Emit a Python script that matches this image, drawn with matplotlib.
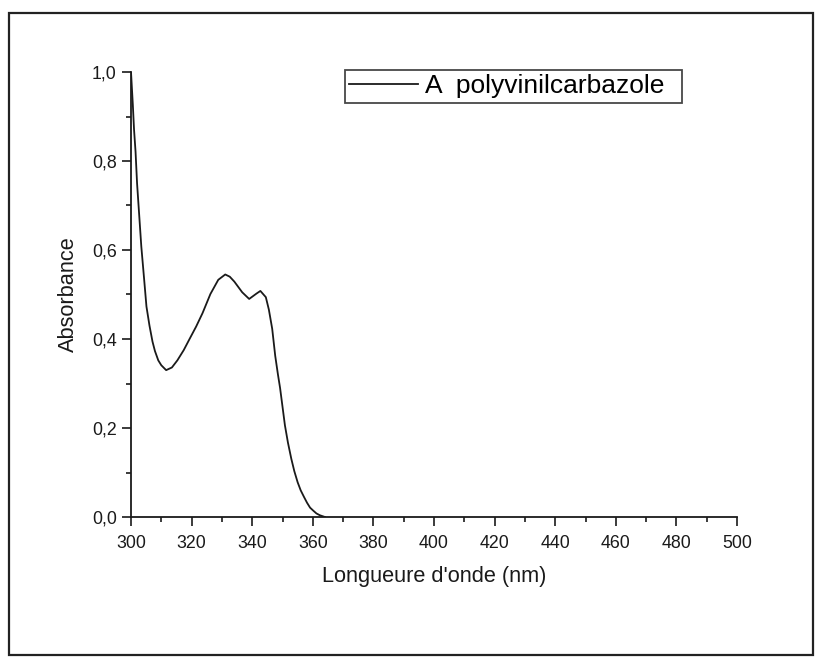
import matplotlib
matplotlib.use("Agg")
import matplotlib.pyplot as plt
from matplotlib.ticker import MultipleLocator, FuncFormatter
from matplotlib.patches import Rectangle

# Data
wavelength = [300.0, 300.6, 301.0, 301.5, 302.0, 302.7, 303.4, 304.3, 305.1,
              306.1, 307.1, 307.9, 309.0, 310.0, 311.6, 313.5, 315.3, 317.4,
              319.4, 321.5, 323.6, 326.2, 328.8, 331.1, 332.6, 334.1, 336.7,
              339.0, 341.4, 342.7, 344.5, 345.5, 346.6, 347.6, 348.5, 349.2,
              350.0, 350.8, 351.8, 352.9, 353.9, 355.0, 356.0, 357.1, 358.1,
              359.1, 360.2, 361.2, 362.3, 364.0]
absorbance = [1.000, 0.927, 0.871, 0.821, 0.750, 0.679, 0.608, 0.537, 0.473,
              0.430, 0.394, 0.373, 0.352, 0.341, 0.330, 0.336, 0.352, 0.375,
              0.401, 0.428, 0.458, 0.501, 0.533, 0.545, 0.540, 0.529, 0.505,
              0.490, 0.502, 0.508, 0.494, 0.466, 0.423, 0.362, 0.320, 0.290,
              0.248, 0.206, 0.167, 0.131, 0.103, 0.078, 0.060, 0.045, 0.032,
              0.021, 0.014, 0.008, 0.004, 0.000]
series_label = "A  polyvinilcarbazole"
x_label = "Longueure d'onde (nm)"
y_label = "Absorbance"

plt.rcParams['font.family'] = ['Liberation Sans', 'DejaVu Sans']
INK = '#1a1a1a'

fig = plt.figure(figsize=(8.26, 6.66), dpi=100)
W, H = 826, 666
AX_L, AX_R, AX_T, AX_B = 131, 737, 72, 517
ax = fig.add_axes([AX_L / W, 1 - AX_B / H, (AX_R - AX_L) / W, (AX_B - AX_T) / H])
ax_w, ax_h = AX_R - AX_L, AX_B - AX_T

# outer frame
fig.patches.append(Rectangle((8.5 / W, 1 - 655 / H), (813 - 8.5) / W, (655 - 13) / H,
                             transform=fig.transFigure, fill=False,
                             edgecolor='#222222', linewidth=1.6))

ax.plot(wavelength, absorbance, color=INK, linewidth=1.3, label=series_label)

ax.set_xlim(300, 500)
ax.set_ylim(0, 1.0)
ax.xaxis.set_major_locator(MultipleLocator(20))
ax.xaxis.set_minor_locator(MultipleLocator(10))
ax.yaxis.set_major_locator(MultipleLocator(0.2))
ax.yaxis.set_minor_locator(MultipleLocator(0.1))
ax.yaxis.set_major_formatter(FuncFormatter(lambda v, p: f"{v:.1f}".replace('.', ',')))

for s in ['top', 'right']:
    ax.spines[s].set_visible(False)
for s in ['left', 'bottom']:
    ax.spines[s].set_linewidth(1.3)
    ax.spines[s].set_color(INK)

ax.tick_params(which='major', direction='out', length=6.2, width=1.2,
               labelsize=12.8, colors=INK)
ax.tick_params(which='minor', direction='out', length=3.4, width=1.2, colors=INK)
ax.tick_params(axis='x', which='major', pad=6.6)
ax.tick_params(axis='y', which='major', pad=4)

ax.set_xlabel(x_label, fontsize=15.7, color=INK, va='center')
ax.set_ylabel(y_label, fontsize=15.7, color=INK, va='center')
ax.xaxis.set_label_coords(0.5, (AX_B - 576.5) / ax_h)
ax.yaxis.set_label_coords((68 - AX_L) / ax_w, 0.5)

lx0, lx1, ly0, ly1 = 345, 682, 70, 107
leg = ax.legend(loc='upper left',
                bbox_to_anchor=((lx0 - AX_L) / ax_w, (AX_B - ly1) / ax_h,
                                (lx1 - lx0) / ax_w, (ly1 - ly0) / ax_h),
                mode='expand', fontsize=19,
                frameon=True, fancybox=False, edgecolor=INK,
                handlelength=2.6, handletextpad=0.25, borderpad=0.17,
                borderaxespad=0)
leg.get_frame().set_linewidth(1.3)

fig.savefig("out.png", dpi=100)
